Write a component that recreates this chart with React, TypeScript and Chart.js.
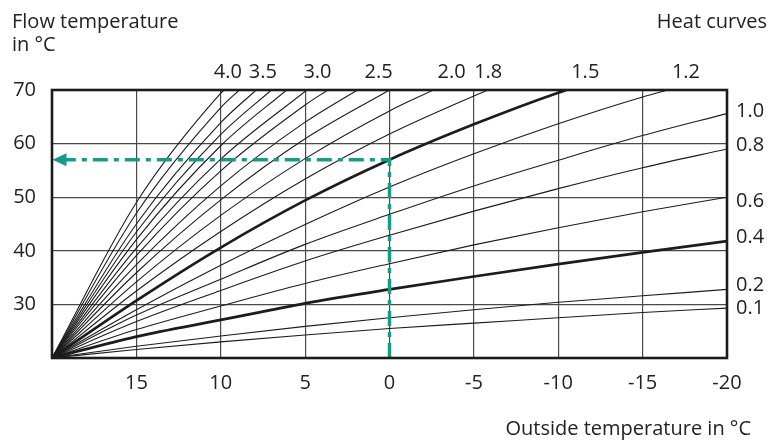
import React, { useEffect, useRef } from "react";
import { Chart, registerables } from "chart.js";

Chart.register(...registerables);

// ---- axes ----
const outsideTemps = [20, 15, 10, 5, 0, -5, -10, -15, -20];
const yTitle = ["Flow temperature", "in °C"];
const xTitle = "Outside temperature in °C";
const curvesTitle = "Heat curves";

// ---- heat curves: flow temperature at each outside temperature ----
const curve01 = [20, 21.6, 23.0, 24.3, 25.5, 26.5, 27.5, 28.5, 29.3];
const curve02 = [20, 22.2, 24.1, 25.9, 27.5, 29.0, 30.4, 31.6, 32.8];
const curve04 = [20, 24.0, 27.1, 30.2, 32.8, 35.2, 37.5, 39.7, 41.8];
const curve06 = [20, 25.3, 29.7, 33.9, 37.6, 41.1, 44.3, 47.3, 50.0];
const curve08 = [20, 26.8, 32.6, 38.1, 42.9, 47.4, 51.6, 55.5, 59.0];
const curve10 = [20, 28.0, 34.7, 41.2, 46.8, 52.1, 56.9, 61.5, 65.6];
const curve12 = [20, 29.0, 37.3, 44.9, 51.9, 58.1, 63.7, 68.7];
const curve15 = [20, 30.7, 40.6, 49.4, 57.0, 63.6, 69.5];
const curve18 = [20, 32.5, 43.6, 53.4, 61.8, 68.9];
const curve20 = [20, 34.2, 46.6, 57.2, 66.1];
const curve22 = [20, 35.9, 49.5, 60.9];
const curve25 = [20, 37.4, 52.1, 64.0];
const curve27 = [20, 39.1, 54.9, 67.2];
const curve30 = [20, 40.5, 57.1];
const curve32 = [20, 42.1, 59.6];
const curve34 = [20, 43.5, 61.7];
const curve35 = [20, 45.0, 63.9];
const curve37 = [20, 47.0, 66.7];
const curve40 = [20, 49.0, 69.4];

const curveNames = ["0.1", "0.2", "0.4", "0.6", "0.8", "1.0", "1.2", "1.5", "1.8", "2.0", "2.2", "2.5", "2.7", "3.0", "3.2", "3.4", "3.5", "3.7", "4.0"];
const curveValues = [curve01, curve02, curve04, curve06, curve08, curve10, curve12, curve15, curve18, curve20, curve22, curve25, curve27, curve30, curve32, curve34, curve35, curve37, curve40];
// outside temperature at which a curve reaches 70 °C (null = it ends at -20)
const curveExitX = [null, null, null, null, null, null, -16.5, -10.5, -5.85, -2.6, 0.0, 1.9, 3.65, 4.9, 6.1, 7.0, 7.9, 8.9, 9.8];
const boldCurves = ["0.4", "1.5"];

// ---- labels of curves ----
const topLabels = ["4.0", "3.5", "3.0", "2.5", "2.0", "1.8", "1.5", "1.2"];
const topLabelX = [9.58, 7.51, 4.27, 0.65, -3.68, -5.85, -11.6, -17.57];
const rightLabels = ["1.0", "0.8", "0.6", "0.4", "0.2", "0.1"];
const rightLabelY = [66.1, 59.65, 49.2, 42.6, 33.6, 29.3];

// ---- example reading (teal) ----
const exampleX = [0, 0, 19.2];
const exampleY = [20, 57, 57];
const exampleArrowTip = { x: 19.97, y: 57 };

const TEAL = "#169b8b";
const INK = "#1c1c1c";
const FONT = "'Open Sans', sans-serif";
const FS = 20;

const decorPlugin = {
  id: "decor",
  afterDatasetsDraw(chart: any) {
    const { ctx, chartArea: a, scales } = chart;
    const xs = scales.x;
    const ys = scales.y;
    ctx.save();
    // arrow head
    const tx = xs.getPixelForValue(exampleArrowTip.x);
    const ty = ys.getPixelForValue(exampleArrowTip.y);
    ctx.fillStyle = TEAL;
    ctx.beginPath();
    ctx.moveTo(tx, ty);
    ctx.lineTo(tx + 14, ty - 6.5);
    ctx.lineTo(tx + 14, ty + 6.5);
    ctx.closePath();
    ctx.fill();
    // frame
    ctx.strokeStyle = INK;
    ctx.lineWidth = 2.6;
    ctx.strokeRect(a.left, a.top, a.right - a.left, a.bottom - a.top);
    ctx.restore();
  },
  afterDraw(chart: any) {
    const { ctx, chartArea: a, scales } = chart;
    const xs = scales.x;
    const ys = scales.y;
    ctx.save();
    ctx.font = `${FS}px ${FONT}`;
    ctx.fillStyle = "#222";
    ctx.textBaseline = "alphabetic";
    ctx.textAlign = "left";
    ctx.fillText(yTitle[0], 12, 28);
    ctx.fillText(yTitle[1], 12, 51);
    ctx.textAlign = "right";
    ctx.fillText(curvesTitle, 767, 28);
    ctx.fillText(xTitle, 751, 435);
    ctx.textAlign = "center";
    topLabels.forEach((t, i) => ctx.fillText(t, xs.getPixelForValue(topLabelX[i]), 78));
    ctx.textAlign = "left";
    ctx.textBaseline = "middle";
    rightLabels.forEach((t, i) => ctx.fillText(t, a.right + 9, ys.getPixelForValue(rightLabelY[i])));
    ctx.restore();
  },
};

export default function App() {
  const ref = useRef<HTMLCanvasElement | null>(null);
  useEffect(() => {
    document.body.style.margin = "0";
    const canvas = ref.current;
    if (!canvas) return;

    const curveSets = curveNames.map((name, i) => {
      const vals = curveValues[i];
      const pts = vals.map((v, j) => ({ x: outsideTemps[j], y: v }));
      const ex = curveExitX[i];
      if (ex !== null) pts.push({ x: ex, y: 70 });
      const bold = boldCurves.includes(name);
      return {
        label: name,
        data: pts,
        borderColor: INK,
        borderWidth: bold ? 2.7 : 1.1,
        pointRadius: 0,
        fill: false,
        cubicInterpolationMode: "monotone" as const,
        order: 2,
      };
    });

    const example = {
      label: "example",
      data: exampleX.map((x, i) => ({ x, y: exampleY[i] })),
      borderColor: TEAL,
      borderWidth: 3.5,
      borderDash: [15, 6, 5, 6],
      pointRadius: 0,
      fill: false,
      tension: 0,
      order: 0,
    };

    const chart = new Chart(canvas, {
      type: "line",
      data: { datasets: [example, ...curveSets] as any },
      plugins: [decorPlugin],
      options: {
        animation: false,
        responsive: true,
        maintainAspectRatio: false,
        layout: { padding: { top: 90, right: 43, left: 0, bottom: 0 } },
        plugins: { legend: { display: false }, tooltip: { enabled: false }, title: { display: false } },
        scales: {
          x: {
            type: "linear",
            min: -20,
            max: 20,
            reverse: true,
            grid: { color: "#4a4a4a", lineWidth: 1.2, drawTicks: false },
            border: { display: false },
            ticks: {
              stepSize: 5,
              padding: 13,
              color: "#222",
              font: { family: FONT, size: FS },
              callback: (v: any) => (Number(v) === 20 ? "" : String(v)),
            },
            afterFit: (s: any) => {
              s.height = 83;
            },
          },
          y: {
            type: "linear",
            min: 20,
            max: 70,
            grid: { color: "#4a4a4a", lineWidth: 1.2, drawTicks: false },
            border: { display: false },
            ticks: {
              stepSize: 10,
              padding: 16,
              color: "#222",
              font: { family: FONT, size: FS },
              callback: (v: any) => (Number(v) === 20 ? "" : String(v)),
            },
            afterFit: (s: any) => {
              s.width = 52;
            },
          },
        },
      },
    });
    return () => chart.destroy();
  }, []);

  return (
    <div style={{ position: "absolute", left: 0, top: 0, width: 770, height: 441 }}>
      <canvas ref={ref} />
    </div>
  );
}
